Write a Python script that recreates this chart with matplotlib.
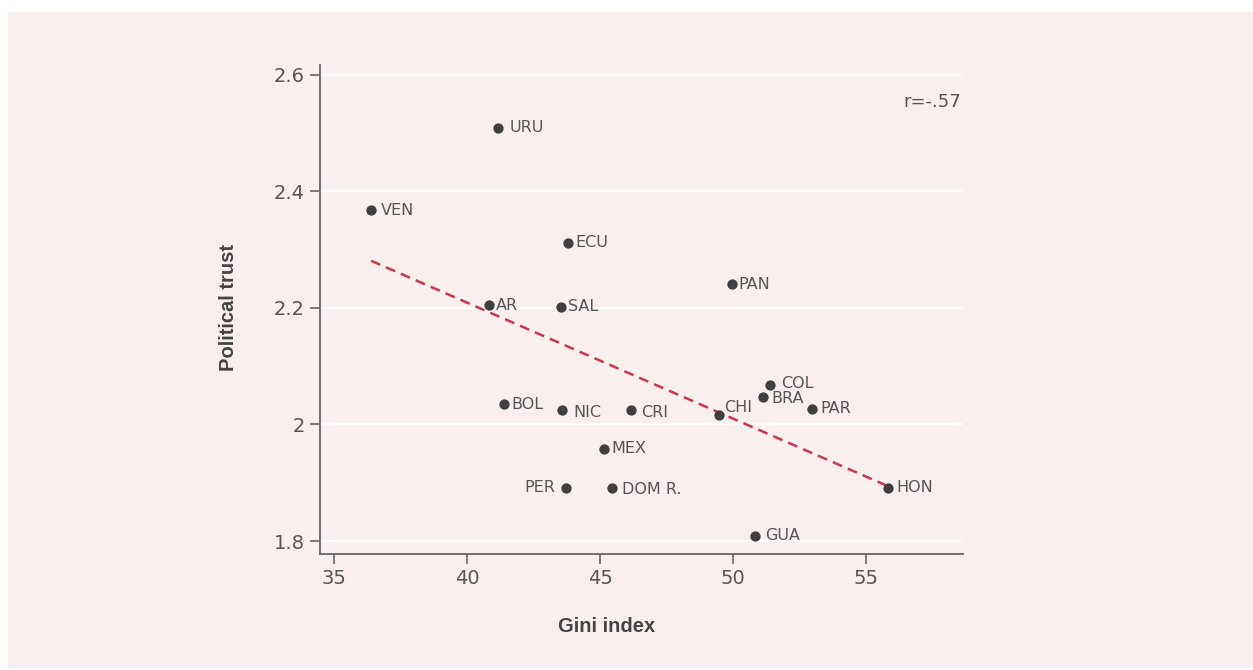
import numpy as np
import matplotlib.pyplot as plt
from matplotlib.patches import Rectangle

# data
countries = ["URU", "VEN", "ECU", "PAN", "AR", "SAL", "COL", "BRA", "PAR", "CHI",
             "BOL", "NIC", "CRI", "MEX", "PER", "DOM R.", "GUA", "HON"]
gini = [41.17, 36.39, 43.80, 49.96, 40.83, 43.53, 51.39, 51.13, 52.97, 49.47,
        41.39, 43.57, 46.17, 45.15, 43.72, 45.45, 50.83, 55.83]
trust = [2.509, 2.368, 2.312, 2.241, 2.205, 2.202, 2.068, 2.047, 2.027, 2.017,
         2.035, 2.025, 2.025, 1.958, 1.891, 1.891, 1.809, 1.891]
x_ticks = [35, 40, 45, 50, 55]
y_ticks = [1.8, 2.0, 2.2, 2.4, 2.6]
y_tick_labels = ["1.8", "2", "2.2", "2.4", "2.6"]

# label offsets in points (dx, dy), default is just right of the dot
offsets = {"URU": (8, 0), "VEN": (7, 0), "NIC": (8, -2), "CRI": (7, -2),
           "DOM R.": (7, -1), "CHI": (4, 5), "PER": (-8, 0), "GUA": (7, 0),
           "PAR": (6, 0), "COL": (8, 1), "BRA": (6, -1), "HON": (6, 0)}

BG = "#f9efee"
TXT = "#555555"
DOT = "#3f3f3f"
RED = "#c8374a"

fig = plt.figure(figsize=(12.53, 6.7), dpi=100)
fig.patches.append(Rectangle((8 / 1253, 2 / 670), 1, 656 / 670, transform=fig.transFigure,
                             facecolor=BG, edgecolor="none", zorder=-10))
ax = fig.add_axes([320 / 1253, 1 - 554 / 670, 643 / 1253, 489 / 670])
ax.set_facecolor(BG)

ax.set_xlim(34.47, 58.65)
ax.set_ylim(1.7777, 2.617)
ax.set_yticks(y_ticks)
ax.set_yticklabels(y_tick_labels)
ax.set_xticks(x_ticks)
ax.grid(axis="y", color="white", linewidth=1.3)
ax.set_axisbelow(True)
for s in ["top", "right"]:
    ax.spines[s].set_visible(False)
for s in ["left", "bottom"]:
    ax.spines[s].set_color("#666666")
    ax.spines[s].set_linewidth(1.3)
ax.tick_params(length=7, width=1.2, color="#666666", labelcolor=TXT, labelsize=14, pad=4)

# fit line
slope, intercept = np.polyfit(gini, trust, 1)
xs = np.array([min(gini), max(gini)])
ax.plot(xs, slope * xs + intercept, color=RED, linestyle=(0, (4, 2.5)), linewidth=1.8, zorder=2)

ax.scatter(gini, trust, s=55, color=DOT, zorder=3, linewidths=0)
for c, x, y in zip(countries, gini, trust):
    dx, dy = offsets.get(c, (5, 0))
    ax.annotate(c, (x, y), xytext=(dx, dy), textcoords="offset points",
                ha="right" if dx < 0 else "left", va="center",
                fontsize=11.5, color=TXT, zorder=4)

ax.text(0.997, 0.925, "r=-.57", transform=ax.transAxes, ha="right", va="center",
        fontsize=13, color=TXT)

ax.set_xlabel("Gini index", fontsize=14.5, fontweight="bold", color="#444444",
              family="Liberation Sans")
ax.set_ylabel("Political trust", fontsize=14.5, fontweight="bold", color="#444444",
              family="Liberation Sans")
ax.xaxis.set_label_coords(0.446, -0.129)
ax.yaxis.set_label_coords(-0.127, 0.505)

fig.savefig("out.png", dpi=100, facecolor="white")
